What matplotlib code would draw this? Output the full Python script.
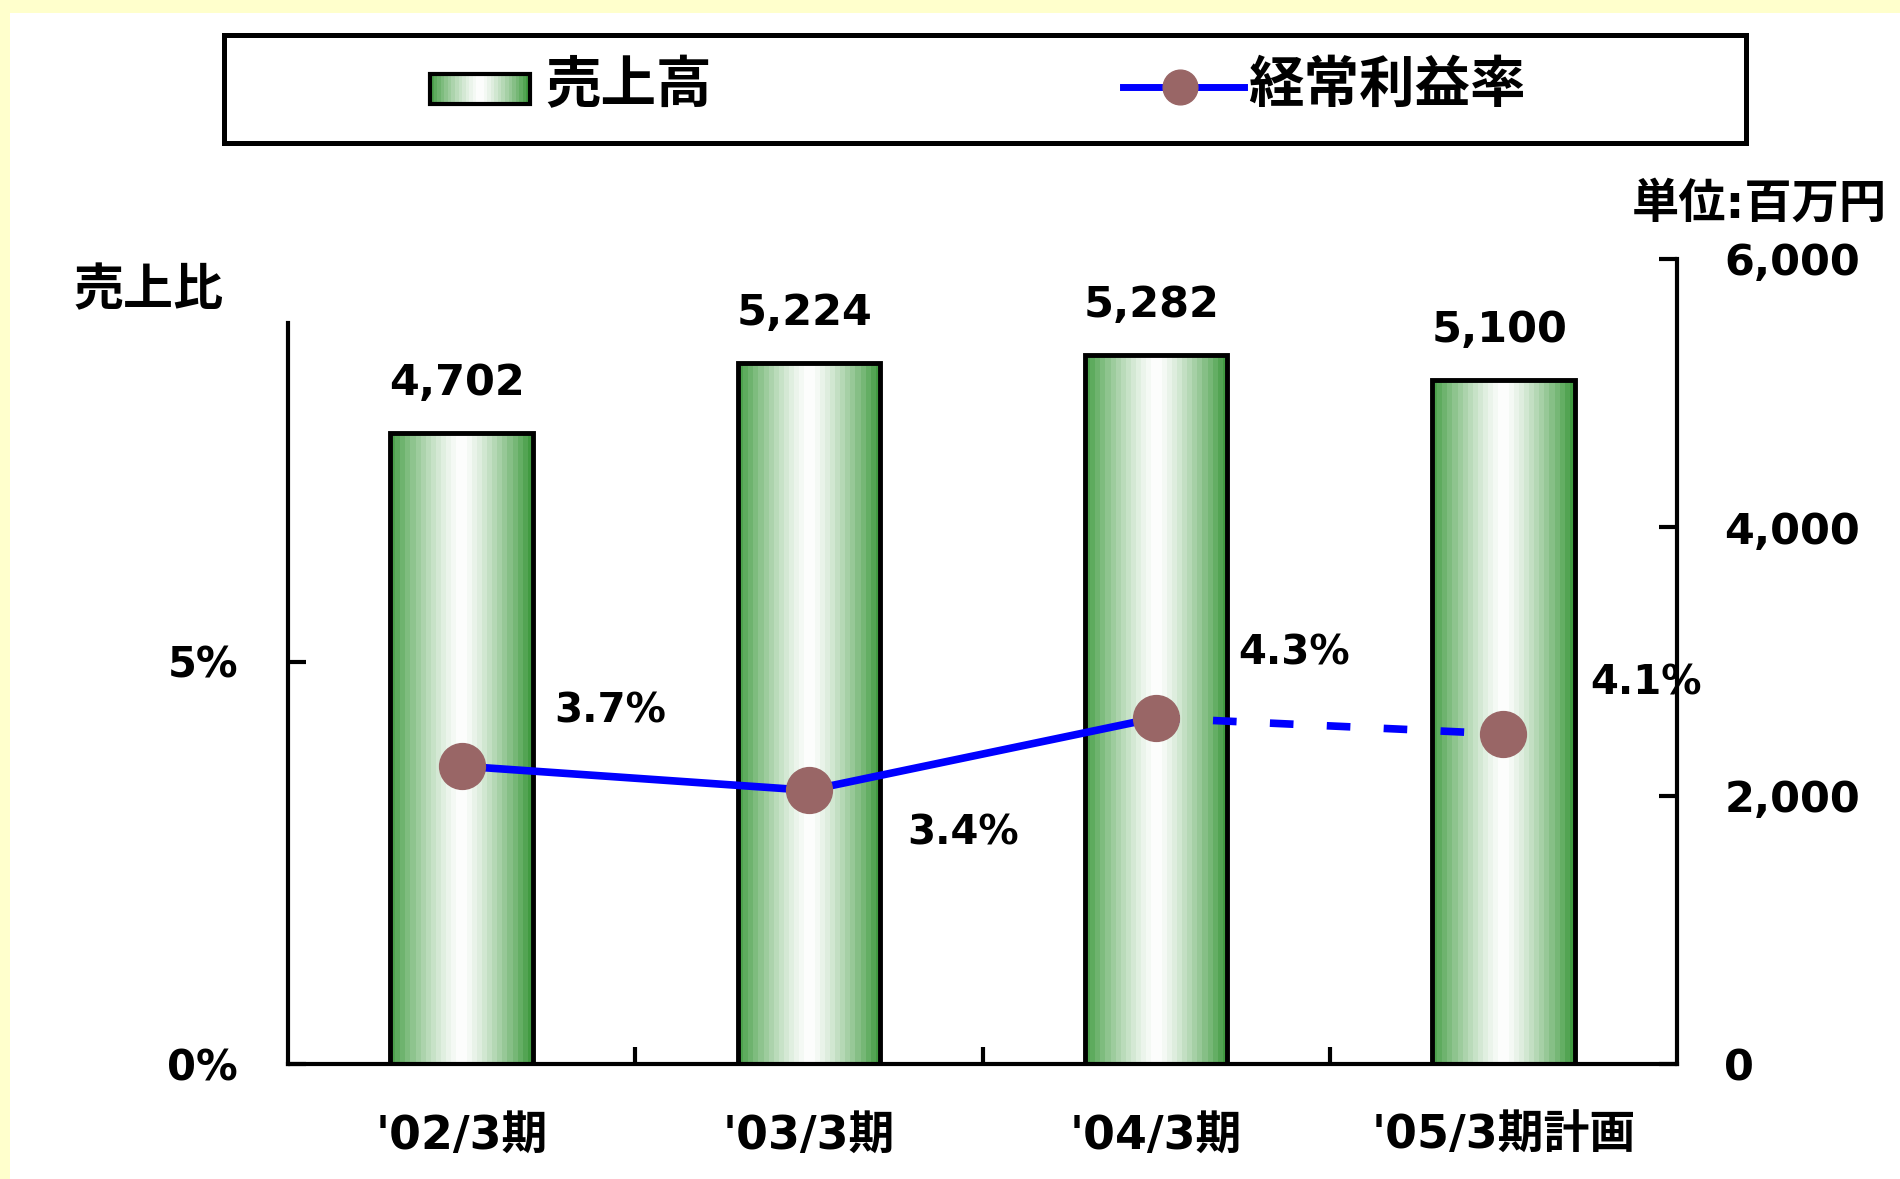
import numpy as np
import matplotlib
matplotlib.use('Agg')
import matplotlib.pyplot as plt
from matplotlib.patches import Rectangle
from matplotlib.lines import Line2D

# ---------------- data ----------------
categories = ["'02/3期", "'03/3期", "'04/3期", "'05/3期計画"]
sales = [4702, 5224, 5282, 5100]
sales_labels = ["4,702", "5,224", "5,282", "5,100"]
margin = [3.7, 3.4, 4.3, 4.1]
margin_labels = ["3.7%", "3.4%", "4.3%", "4.1%"]
right_ticks = [0, 2000, 4000, 6000]
right_ticklabels = ["0", "2,000", "4,000", "6,000"]
left_ticks = [0, 5]
left_ticklabels = ["0%", "5%"]
legend_labels = ["売上高", "経常利益率"]
left_axis_title = "売上比"
unit_label = "単位:百万円"

# label offsets (points) for the margin labels
margin_offsets = [(107, 39), (111, -31), (99, 46), (103, 36)]

plt.rcParams['font.family'] = ['DejaVu Sans', 'Noto Sans CJK JP']
plt.rcParams['font.weight'] = 'bold'
plt.rcParams['lines.scale_dashes'] = False

W, H = 1900, 1179
fig = plt.figure(figsize=(19, 11.79), dpi=100, facecolor='white')

# yellow border (top and left)
fig.patches.append(Rectangle((0, 1 - 13 / H), 1, 13 / H, transform=fig.transFigure,
                             facecolor='#FFFFCC', edgecolor='none', zorder=0))
fig.patches.append(Rectangle((0, 0), 10 / W, 1, transform=fig.transFigure,
                             facecolor='#FFFFCC', edgecolor='none', zorder=0))

# gradient for the bars
n = 28
pos = (np.arange(n) + 0.5) / n
t = np.abs(pos - 0.5) * 2
g = t ** 1.3
left_green = np.array([0.27, 0.62, 0.27])
right_green = np.array([0.22, 0.59, 0.22])
cols = np.zeros((n, 3))
for i in range(n):
    edge = left_green if pos[i] < 0.5 else right_green
    cols[i] = 1 - g[i] * (1 - edge)
grad = cols[np.newaxis, :, :]

# ---------------- main axes ----------------
L, R, B, T = 288, 1677, 1064, 259
ax = fig.add_axes([L / W, 1 - B / H, (R - L) / W, (B - T) / H])
ax.set_facecolor('none')
ax2 = ax.twinx()

x = np.arange(len(categories))
bars = ax.bar(x, sales, width=0.41, facecolor='none', edgecolor='black',
              linewidth=3.5, zorder=3)
for b in bars:
    ax.imshow(grad, extent=(b.get_x(), b.get_x() + b.get_width(), 0, b.get_height()),
              aspect='auto', interpolation='nearest', zorder=2)
ax.set_xlim(-0.5, len(categories) - 0.5)
ax.set_ylim(0, 6000)

for xi, s, lbl in zip(x, sales, sales_labels):
    ax.annotate(lbl, (xi, s), xytext=(-3, 36), textcoords='offset points',
                ha='center', va='center', fontsize=31, fontweight='bold')

for side in ['left', 'top']:
    ax.spines[side].set_visible(False)
for side in ['right', 'bottom']:
    ax.spines[side].set_linewidth(3)

ax.yaxis.tick_right()
ax.set_yticks(right_ticks)
ax.set_yticklabels(right_ticklabels)
ax.tick_params(axis='y', direction='in', length=13, width=3, pad=34, labelsize=31)

ax.set_xticks([0.5, 1.5, 2.5])
ax.set_xticklabels([])
ax.tick_params(axis='x', which='major', direction='in', length=12, width=3)
ax.set_xticks(x, minor=True)
ax.set_xticklabels(categories, minor=True)
ax.tick_params(axis='x', which='minor', length=0, pad=36, labelsize=33)

# ---------------- percent axis ----------------
ax2.set_ylim(0, 10)
ax2.yaxis.tick_left()
ax2.yaxis.set_label_position('left')
for side in ['right', 'top', 'bottom']:
    ax2.spines[side].set_visible(False)
ax2.spines['left'].set_linewidth(3)
ax2.spines['left'].set_bounds(0, 9.2)
ax2.set_yticks(left_ticks)
ax2.set_yticklabels(left_ticklabels)
ax2.tick_params(axis='y', direction='in', length=13, width=3, pad=36, labelsize=30)

ax2.plot(x[:3], margin[:3], color='#0000FF', lw=5.5, solid_capstyle='butt', zorder=3)
ax2.plot(x[2:], margin[2:], color='#0000FF', lw=5.5, dashes=(17, 24),
         dash_capstyle='butt', zorder=3)
ax2.plot(x, margin, linestyle='none', marker='o', ms=33, color='#996666',
         mec='#996666', zorder=4)

for xi, m, lbl, off in zip(x, margin, margin_labels, margin_offsets):
    ax2.annotate(lbl, (xi, m), xytext=off, textcoords='offset points',
                 ha='center', va='center', fontsize=29, fontweight='bold')

# axis titles
fig.text(149 / W, 1 - 291 / H, left_axis_title, ha='center', va='center',
         fontsize=36, fontweight='bold')
fig.text(1887 / W, 1 - 205 / H, unit_label, ha='right', va='center',
         fontsize=34, fontweight='bold')

# ---------------- legend ----------------
lx0, lx1, ly0, ly1 = 224, 1746, 35, 143
lax = fig.add_axes([lx0 / W, 1 - ly1 / H, (lx1 - lx0) / W, (ly1 - ly0) / H])
lax.set_xticks([])
lax.set_yticks([])
for s in lax.spines.values():
    s.set_linewidth(3.6)
    s.set_color('black')
lax.imshow(grad, extent=(430, 530, 104, 74), aspect='auto', interpolation='nearest', zorder=2)
lax.add_patch(Rectangle((430, 74), 100, 30, facecolor='none', edgecolor='black',
                        linewidth=3, zorder=3))
lax.set_xlim(lx0, lx1)
lax.set_ylim(ly1, ly0)
lax.text(545, 87, legend_labels[0], ha='left', va='center', fontsize=40, fontweight='bold')
lax.add_line(Line2D([1123, 1244], [87, 87], color='#0000FF', lw=5))
lax.add_line(Line2D([1180], [87], marker='o', ms=25, color='#996666', mec='#996666'))
lax.text(1248, 87, legend_labels[1], ha='left', va='center', fontsize=40, fontweight='bold')

fig.savefig('out.png', dpi=100, facecolor='white')
